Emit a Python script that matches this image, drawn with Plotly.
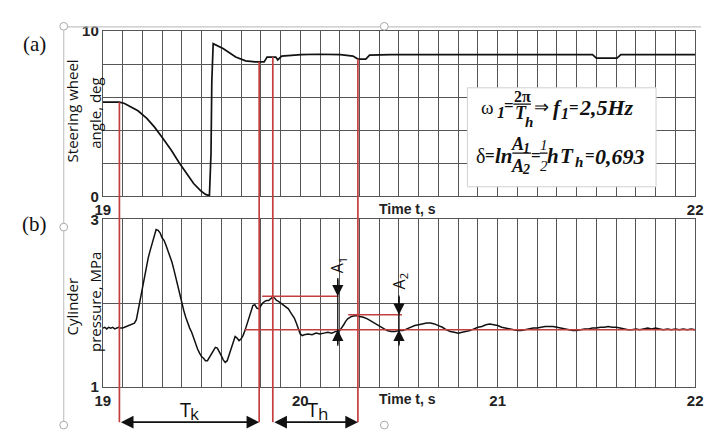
import numpy as np
import plotly.graph_objects as go

# ---------------- data ----------------
steer_t = [19.000, 19.084, 19.110, 19.139, 19.178, 19.223, 19.262, 19.302, 19.347, 19.386,
           19.426, 19.460, 19.495, 19.520, 19.540, 19.548, 19.552, 19.556, 19.559, 19.609,
           19.673, 19.723, 19.772, 19.817, 19.832, 19.876, 19.886, 19.906, 20.005, 20.089,
           20.203, 20.267, 20.292, 20.332, 20.351, 20.460, 21.480, 21.500, 21.604, 21.624, 22.000]
steer_v = [5.70, 5.70, 5.62, 5.45, 5.18, 4.72, 4.19, 3.55, 2.79, 2.05,
           1.34, 0.78, 0.35, 0.12, 0.05, 2.60, 6.90, 8.80, 9.24, 8.95,
           8.43, 8.20, 8.14, 8.14, 8.43, 8.43, 8.26, 8.49, 8.58, 8.60,
           8.58, 8.49, 8.31, 8.31, 8.55, 8.58, 8.58, 8.37, 8.37, 8.58, 8.58]

press_t = [19.00, 19.01, 19.02, 19.03, 19.04, 19.05, 19.06, 19.07, 19.08, 19.09, 19.10, 19.11,
           19.12, 19.14, 19.16, 19.17, 19.18, 19.19, 19.20, 19.21, 19.22, 19.23, 19.24, 19.25,
           19.26, 19.27, 19.28, 19.29, 19.30, 19.31, 19.32, 19.33, 19.34, 19.35, 19.36, 19.37,
           19.38, 19.39, 19.40, 19.41, 19.42, 19.43, 19.44, 19.45, 19.46, 19.47, 19.48, 19.49,
           19.50, 19.51, 19.52, 19.53, 19.54, 19.55, 19.56, 19.57, 19.58, 19.59, 19.60, 19.61,
           19.62, 19.63, 19.64, 19.65, 19.66, 19.67, 19.68, 19.69, 19.70, 19.71, 19.72, 19.73,
           19.74, 19.75, 19.76, 19.77, 19.78, 19.79, 19.80, 19.81, 19.82, 19.83, 19.84, 19.85,
           19.86, 19.87, 19.88, 19.89, 19.90, 19.91, 19.92, 19.93, 19.94, 19.95, 19.96, 19.97,
           19.98, 19.99, 20.00, 20.01, 20.02, 20.04, 20.06, 20.08, 20.10, 20.12, 20.14, 20.16,
           20.18, 20.20, 20.21, 20.22, 20.23, 20.24, 20.26, 20.28, 20.30, 20.32, 20.34, 20.36,
           20.38, 20.40, 20.42, 20.44, 20.46, 20.48, 20.50, 20.52, 20.54, 20.56, 20.58, 20.60,
           20.62, 20.64, 20.66, 20.68, 20.70, 20.72, 20.74, 20.76, 20.78, 20.80, 20.82, 20.84,
           20.86, 20.88, 20.90, 20.92, 20.94, 20.96, 20.98, 21.00, 21.02, 21.04, 21.06, 21.08,
           21.10, 21.12, 21.14, 21.16, 21.18, 21.20, 21.22, 21.24, 21.26, 21.28, 21.30, 21.32,
           21.34, 21.36, 21.38, 21.40, 21.42, 21.44, 21.46, 21.48, 21.50, 21.52, 21.54, 21.56,
           21.58, 21.60, 21.62, 21.64, 21.66, 21.68, 21.70, 21.72, 21.74, 21.76, 21.78, 21.80,
           21.82, 21.84, 21.86, 21.88, 21.90, 21.92, 21.94, 21.96, 21.98, 22.00]
press_v = [1.70, 1.71, 1.69, 1.71, 1.70, 1.71, 1.69, 1.70, 1.71, 1.70, 1.70, 1.71,
           1.72, 1.74, 1.76, 1.80, 1.92, 2.05, 2.18, 2.32, 2.43, 2.54, 2.63, 2.72,
           2.82, 2.88, 2.87, 2.84, 2.78, 2.75, 2.69, 2.63, 2.56, 2.49, 2.40, 2.30,
           2.19, 2.09, 2.00, 1.91, 1.83, 1.76, 1.70, 1.65, 1.58, 1.51, 1.45, 1.40,
           1.36, 1.34, 1.31, 1.31, 1.35, 1.39, 1.43, 1.47, 1.46, 1.42, 1.37, 1.32,
           1.29, 1.31, 1.38, 1.46, 1.54, 1.60, 1.58, 1.55, 1.57, 1.61, 1.67, 1.75,
           1.84, 1.92, 1.97, 1.98, 1.94, 1.93, 1.97, 2.00, 2.02, 2.03, 2.03, 2.05,
           2.07, 2.06, 2.03, 2.02, 2.00, 1.99, 1.97, 1.95, 1.93, 1.89, 1.86, 1.82,
           1.76, 1.69, 1.63, 1.61, 1.62, 1.63, 1.62, 1.64, 1.63, 1.64, 1.65, 1.64,
           1.66, 1.67, 1.70, 1.74, 1.78, 1.81, 1.84, 1.85, 1.84, 1.83, 1.81, 1.78,
           1.75, 1.72, 1.69, 1.67, 1.66, 1.66, 1.67, 1.67, 1.69, 1.71, 1.73, 1.74,
           1.75, 1.76, 1.76, 1.75, 1.73, 1.71, 1.68, 1.66, 1.65, 1.64, 1.65, 1.66,
           1.67, 1.69, 1.71, 1.72, 1.74, 1.75, 1.74, 1.73, 1.71, 1.70, 1.69, 1.68,
           1.67, 1.67, 1.68, 1.69, 1.70, 1.70, 1.71, 1.72, 1.72, 1.72, 1.71, 1.70,
           1.69, 1.68, 1.67, 1.67, 1.68, 1.69, 1.69, 1.70, 1.70, 1.71, 1.71, 1.72,
           1.71, 1.71, 1.70, 1.69, 1.68, 1.68, 1.69, 1.68, 1.69, 1.70, 1.69, 1.70,
           1.69, 1.68, 1.69, 1.68, 1.69, 1.68, 1.69, 1.68, 1.69, 1.68]

marker_t = [19.084, 19.792, 19.861, 20.292]   # red vertical markers
Tk = (19.084, 19.792)
Th = (19.861, 20.292)
base_level = 1.68
A1_level, A1_t, A1_span = 2.08, 20.19, (19.807, 20.193)
A2_level, A2_t, A2_span = 1.86, 20.50, (20.243, 20.515)
base_start = 19.718

top_ticks = {19: "19", 22: "22"}
bot_ticks = {19: "19", 20: "20", 21: "21", 22: "22"}

# ---------------- layout helpers ----------------
W, H = 709, 434
def PX(x): return x / W
def PY(y): return 1 - y / H

RED = "rgb(196,62,62)"
GRID = "#555555"
xgrid = [round(19 + 0.1 * i, 1) for i in range(31)]

fig = go.Figure()
fig.add_trace(go.Scatter(x=steer_t, y=steer_v, mode="lines", xaxis="x", yaxis="y",
                         line=dict(color="#111", width=1.7), showlegend=False, hoverinfo="skip"))
fig.add_trace(go.Scatter(x=press_t, y=press_v, mode="lines", xaxis="x2", yaxis="y2",
                         line=dict(color="#111", width=1.5), showlegend=False, hoverinfo="skip"))

tickfont = dict(family="Liberation Sans", size=15, color="#222", weight="bold")
def xaxis(ticks, anchor, dom):
    return dict(domain=dom, range=[19, 22], anchor=anchor, tickmode="array", tickvals=xgrid,
                ticktext=[ticks.get(round(v), "") if abs(v - round(v)) < 1e-9 else "" for v in xgrid],
                showgrid=True, gridcolor=GRID, gridwidth=1, showline=True, linecolor=GRID,
                mirror=True, ticks="", tickfont=tickfont, zeroline=False, fixedrange=True,
                ticklabeloverflow="allow")

xd = [PX(97), PX(703)]
fig.update_layout(
    width=W, height=H, autosize=False, margin=dict(l=0, r=0, t=0, b=0),
    paper_bgcolor="white", plot_bgcolor="white",
    xaxis=xaxis(top_ticks, "y", xd),
    xaxis2=xaxis(bot_ticks, "y2", xd),
    yaxis=dict(domain=[PY(195), PY(23)], range=[0, 10], anchor="x", tickmode="array",
               tickvals=[0, 2, 4, 6, 8, 10], ticktext=["0", "", "", "", "", "10"],
               showgrid=True, gridcolor=GRID, showline=True, linecolor=GRID, mirror=True,
               ticks="", tickfont=tickfont, zeroline=False, ticklabeloverflow="allow"),
    yaxis2=dict(domain=[PY(393), PY(219)], range=[1, 3], anchor="x2", tickmode="array",
                tickvals=[1, 2, 3], ticktext=["1", "", "3"],
                showgrid=True, gridcolor=GRID, showline=True, linecolor=GRID, mirror=True,
                ticks="", tickfont=tickfont, zeroline=False, ticklabeloverflow="allow"),
)

shapes = []
ann = []
# Word-style frame handles
HG = "#c4c4c4"
shapes.append(dict(type="line", xref="paper", yref="paper", x0=PX(57), x1=1, y0=PY(18.5), y1=PY(18.5),
                   line=dict(color=HG, width=1.2)))
shapes.append(dict(type="line", xref="paper", yref="paper", x0=PX(57), x1=PX(57), y0=0, y1=PY(18.5),
                   line=dict(color=HG, width=1.2)))
for cx, cy in [(57, 18), (385, 18), (57, 227), (57, 433), (385, 433)]:
    shapes.append(dict(type="circle", xref="paper", yref="paper", x0=PX(cx - 4), x1=PX(cx + 4),
                       y0=PY(cy + 4), y1=PY(cy - 4), fillcolor="white", line=dict(color="#aaa", width=1)))

# formula box
shapes.append(dict(type="rect", xref="paper", yref="paper", x0=PX(470), x1=PX(663), y0=PY(185), y1=PY(82),
                   fillcolor="white", line=dict(color="#d0d0d0", width=1)))

# red vertical marker lines
for t in marker_t:
    v = float(np.interp(t, steer_t, steer_v))
    shapes.append(dict(type="line", xref="x", yref="y", x0=t, x1=t, y0=v, y1=0,
                       line=dict(color=RED, width=1.7), layer="above"))
    shapes.append(dict(type="line", xref="x", yref="paper", x0=t, x1=t, y0=PY(195), y1=PY(430),
                       line=dict(color=RED, width=1.7), layer="above"))
# red horizontal levels
shapes.append(dict(type="line", xref="x2", yref="y2", x0=base_start, x1=22, y0=base_level, y1=base_level,
                   line=dict(color=RED, width=1.4), layer="above"))
shapes.append(dict(type="line", xref="x2", yref="y2", x0=A1_span[0], x1=A1_span[1], y0=A1_level, y1=A1_level,
                   line=dict(color=RED, width=1.4), layer="above"))
shapes.append(dict(type="line", xref="x2", yref="y2", x0=A2_span[0], x1=A2_span[1], y0=A2_level, y1=A2_level,
                   line=dict(color=RED, width=1.4), layer="above"))

# A1 / A2 vertical arrows
for t, lev, sub, top, laby in [(A1_t, A1_level, "1", 2.30, 2.46),
                               (A2_t, A2_level, "2", 2.09, 2.27)]:
    shapes.append(dict(type="line", xref="x2", yref="y2", x0=t, x1=t, y0=top, y1=1.49,
                       line=dict(color="#111", width=1.3), layer="above"))
    ann.append(dict(x=t, y=lev, xref="x2", yref="y2", ax=t, ay=top, axref="x2", ayref="y2",
                    showarrow=True, arrowhead=2, arrowsize=1.6, arrowwidth=1.4, arrowcolor="#111", text=""))
    ann.append(dict(x=t, y=base_level, xref="x2", yref="y2", ax=t, ay=1.49, axref="x2", ayref="y2",
                    showarrow=True, arrowhead=2, arrowsize=1.6, arrowwidth=1.4, arrowcolor="#111", text=""))
    ann.append(dict(x=t, y=laby, xref="x2", yref="y2", text="A<sub>" + sub + "</sub>", textangle=-90,
                    showarrow=False, xanchor="center", yanchor="middle",
                    font=dict(family="Open Sans", size=16, color="#111")))

# Tk / Th double arrows
for (a, b) in (Tk, Th):
    ann.append(dict(x=b, y=PY(430), xref="x2", yref="paper", ax=a, ay=0, axref="x2", ayref="pixel",
                    showarrow=True, arrowhead=2, arrowside="end+start", arrowsize=1.4, arrowwidth=1.8,
                    arrowcolor="#111", text=""))
lab_font = dict(family="Open Sans", size=20, color="#111")
sub_font = dict(family="Open Sans", size=17, color="#111")
for tx, sx, s in (((Tk[0] + Tk[1]) / 2 - 0.02, (Tk[0] + Tk[1]) / 2 + 0.027, "k"), (20.062, 20.115, "h")):
    ann.append(dict(x=tx, y=PY(417), xref="x2", yref="paper", text="T",
                    showarrow=False, xanchor="center", yanchor="middle", font=lab_font))
    ann.append(dict(x=sx, y=PY(421), xref="x2", yref="paper", text=s,
                    showarrow=False, xanchor="center", yanchor="middle", font=sub_font))

# "Time t, s" labels
for yy in (208, 406):
    ann.append(dict(x=20.39, y=PY(yy), xref="x", yref="paper", xanchor="left", yanchor="middle",
                    text="<b>Time t, s</b>", showarrow=False,
                    font=dict(family="Liberation Sans", size=14, color="#222")))

# panel letters
for y, s in ((36, "(a)"), (224, "(b)")):
    ann.append(dict(x=PX(27), y=PY(y), xref="paper", yref="paper", text=s, showarrow=False,
                    xanchor="center", yanchor="middle",
                    font=dict(family="Liberation Serif", size=21, color="#111")))

# axis titles
yt = dict(family="Open Sans", size=15, color="#111")
for x, y, s in ((65, 106, "Steering wheel"), (89, 108, "angle, deg"),
                (65, 310, "Cylinder"), (89, 305, "pressure, MPa")):
    ann.append(dict(x=PX(x), y=PY(y), xref="paper", yref="paper", text=s, textangle=-90,
                    xanchor="center", yanchor="middle", showarrow=False, font=yt))

# formula (stacked fractions), pieces placed individually
def ftxt(x, y, s, size=20, bold=True, italic=True):
    if italic:
        s = "<i>" + s + "</i>"
    if bold:
        s = "<b>" + s + "</b>"
    ann.append(dict(x=PX(x), y=PY(y), xref="paper", yref="paper", text=s, showarrow=False,
                    xanchor="center", yanchor="middle",
                    font=dict(family="Liberation Serif", size=size, color="#111")))
def fbar(x0, x1, y):
    shapes.append(dict(type="line", xref="paper", yref="paper", x0=PX(x0), x1=PX(x1), y0=PY(y), y1=PY(y),
                       line=dict(color="#111", width=1.3)))
# line 1
ftxt(491, 102, "ω", 19, bold=False, italic=False)
ftxt(504, 108, "1", 16)
ftxt(513, 100, "=", 17, italic=False)
ftxt(526, 91, "2π", 16, italic=False)
fbar(517, 535, 99)
ftxt(525, 108, "T", 18)
ftxt(533, 118, "h", 15)
ftxt(546, 102, "⇒", 18, bold=False, italic=False)
ftxt(562, 103, "f", 21)
ftxt(570, 109, "1", 16)
ftxt(579, 102, "=", 17, italic=False)
ftxt(612, 103, "2,5Hz", 22)
# line 2
ftxt(483, 153, "δ", 20, bold=False, italic=False)
ftxt(493, 152, "=", 17, italic=False)
ftxt(507, 153, "ln", 21)
ftxt(521, 141, "A", 18)
ftxt(530, 145, "1", 14)
fbar(516, 535, 150)
ftxt(521, 163, "A", 18)
ftxt(530, 167, "2", 14)
ftxt(540, 152, "=", 17, italic=False)
ftxt(548, 142, "1", 15, bold=False)
fbar(544, 552, 150)
ftxt(548, 163, "2", 15, bold=False)
ftxt(558, 153, "h", 21)
ftxt(572, 153, "T", 21)
ftxt(584, 159, "h", 15)
ftxt(595, 152, "=", 17, italic=False)
ftxt(626, 153, "0,693", 22)

fig.update_layout(shapes=shapes, annotations=ann)
fig.write_html("out.html")
